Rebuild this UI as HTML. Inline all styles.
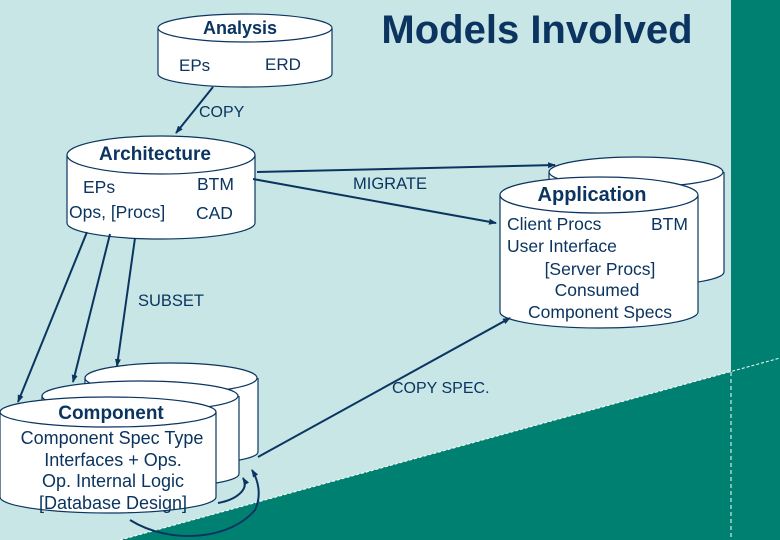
<!DOCTYPE html>
<html><head><meta charset="utf-8"><style>
html,body{margin:0;padding:0;background:#c8e6e6;}
svg{display:block;}
text{font-family:"Liberation Sans",sans-serif;fill:#0b3560;}
</style></head><body>
<svg width="780" height="540" viewBox="0 0 780 540" xmlns="http://www.w3.org/2000/svg">
<defs>
<marker id="ah" markerWidth="8" markerHeight="8" refX="7" refY="4" orient="auto" markerUnits="userSpaceOnUse">
<path d="M0,1 L8,4 L0,7 Z" fill="#0b3560"/></marker>
</defs>
<rect width="780" height="540" fill="#c8e6e6"/>
<polygon points="731,0 780,0 780,540 731,540" fill="#008070"/>
<polygon points="120,540 780,358 780,540" fill="#008070"/>
<line x1="120" y1="540" x2="780" y2="358" stroke="#fff" stroke-width="1" stroke-dasharray="3,2"/>
<line x1="731" y1="372" x2="731" y2="540" stroke="#fff" stroke-width="1" stroke-dasharray="4,3"/>

<g stroke="#0b3560" stroke-width="1.2" fill="#fff">
<path d="M158,28 L158,74 A87,13 0 0 0 332,74 L332,28"/>
<ellipse cx="245" cy="28" rx="87" ry="14"/>
<path d="M67,155 L67,223 A94,16 0 0 0 255,223 L255,155"/>
<ellipse cx="161" cy="155" rx="94" ry="19"/>
<path d="M549,172 L549,272 A87,14 0 0 0 724,272 L724,172"/>
<ellipse cx="636" cy="172" rx="87" ry="15"/>
<path d="M500,195 L500,312 A99,16 0 0 0 698,312 L698,195"/>
<ellipse cx="599" cy="195" rx="99" ry="18"/>
<path d="M85,378 L85,452 A86,13 0 0 0 258,452 L258,378"/>
<ellipse cx="171" cy="378" rx="86" ry="15"/>
<path d="M42,396 L42,474 A98,14 0 0 0 239,474 L239,396"/>
<ellipse cx="140" cy="396" rx="98" ry="15"/>
<path d="M0,412 L0,497 A108,16 0 0 0 216,497 L216,412"/>
<ellipse cx="108" cy="412" rx="108" ry="15"/>
</g>

<g stroke="#0b3560" stroke-width="2" fill="none">
<line x1="213" y1="87" x2="176" y2="133" marker-end="url(#ah)"/>
<line x1="257" y1="172" x2="555" y2="165" marker-end="url(#ah)"/>
<line x1="253" y1="179" x2="496" y2="223" marker-end="url(#ah)"/>
<line x1="87" y1="232" x2="18" y2="402" marker-end="url(#ah)"/>
<line x1="110" y1="234" x2="73" y2="382" marker-end="url(#ah)"/>
<line x1="135" y1="238" x2="117" y2="366" marker-end="url(#ah)"/>
<line x1="258" y1="457" x2="510" y2="318" marker-end="url(#ah)"/>
<path d="M218,503 C235,500 250,490 243,478" marker-end="url(#ah)"/>
<path d="M130,520 C170,545 230,540 255,510 C262,495 258,480 252,470" marker-end="url(#ah)"/>
</g>

<text x="240" y="34" font-size="18" font-weight="bold" text-anchor="middle">Analysis</text>
<text x="179" y="71" font-size="17">EPs</text>
<text x="265" y="70" font-size="17">ERD</text>
<text x="537" y="43" font-size="40" font-weight="bold" text-anchor="middle">Models Involved</text>
<text x="199" y="117" font-size="16">COPY</text>
<text x="155" y="160" font-size="19" font-weight="bold" text-anchor="middle">Architecture</text>
<text x="83" y="193" font-size="17.5">EPs</text>
<text x="69" y="218" font-size="17.5">Ops, [Procs]</text>
<text x="197" y="190" font-size="17.5">BTM</text>
<text x="196" y="219" font-size="17.5">CAD</text>
<text x="353" y="189" font-size="16.5">MIGRATE</text>
<text x="592" y="201" font-size="20" font-weight="bold" text-anchor="middle">Application</text>
<text x="507" y="230" font-size="17.5">Client Procs</text>
<text x="651" y="230" font-size="17.5">BTM</text>
<text x="507" y="252" font-size="17.5">User Interface</text>
<text x="600" y="275" font-size="17.5" text-anchor="middle">[Server Procs]</text>
<text x="597" y="296" font-size="17.5" text-anchor="middle">Consumed</text>
<text x="600" y="318" font-size="17.5" text-anchor="middle">Component Specs</text>
<text x="138" y="306" font-size="16.5">SUBSET</text>
<text x="392" y="393" font-size="16">COPY SPEC.</text>
<text x="111" y="419" font-size="19" font-weight="bold" text-anchor="middle">Component</text>
<text x="112" y="444" font-size="18" text-anchor="middle">Component Spec Type</text>
<text x="113" y="466" font-size="18" text-anchor="middle">Interfaces + Ops.</text>
<text x="113" y="487" font-size="18" text-anchor="middle">Op. Internal Logic</text>
<text x="113" y="509" font-size="18" text-anchor="middle">[Database Design]</text>
</svg>
</body></html>
